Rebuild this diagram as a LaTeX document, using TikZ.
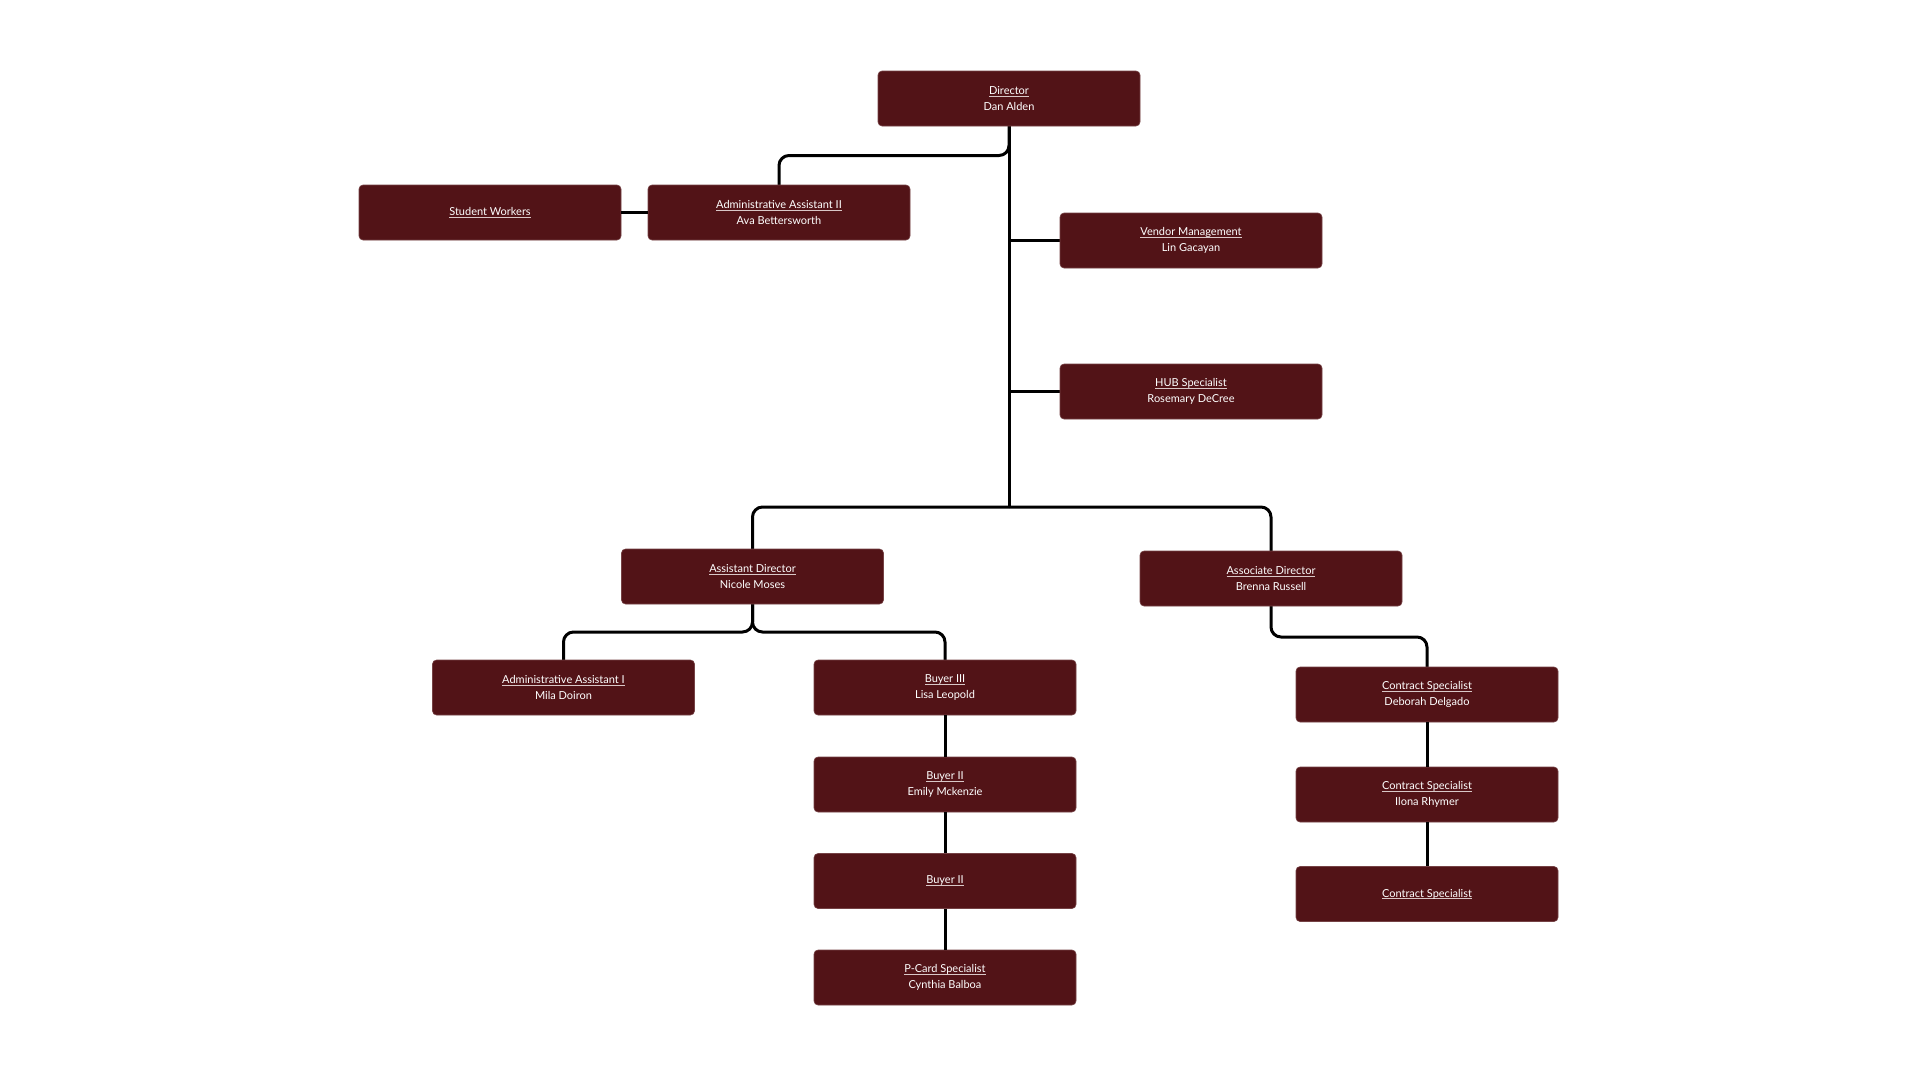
\documentclass[tikz,border=0pt]{standalone}
\usepackage{fontspec}
\setmainfont{Lato}
\definecolor{boxfill}{HTML}{521317}
\definecolor{ulc}{HTML}{D9C7C7}
\newcommand\ttl[1]{\setbox0\hbox{#1}\rlap{\color{ulc}\rule[-2pt]{\wd0}{0.7pt}}\box0}
\tikzset{
  orgbox/.style={draw=boxfill!80!white, line width=0.6pt, fill=boxfill, rounded corners=4pt,
    minimum width=262pt, minimum height=55pt, inner sep=0pt, text=white, align=center,
    font=\fontsize{11}{16}\selectfont},
  conn/.style={draw=black, line width=3pt, rounded corners=10pt}
}
\begin{document}
\begin{tikzpicture}[x=1pt,y=-1pt]
\useasboundingbox (0,0) rectangle (1920,1080);
% junctions
\coordinate (jA) at (1009,155.5);
\coordinate (jV) at (1009,240.5);
\coordinate (jH) at (1009,391.5);
\coordinate (jT) at (1009,507);
\coordinate (jB) at (752.5,632);
\coordinate (jC) at (1271,637);
% connectors (drawn first, under boxes)
\draw[conn] (1009,126) -- (jT);
\draw[conn] (1009,126) -- (jA) -| (779,185);
\draw[conn] (jV) -- (1060,240.5);
\draw[conn] (jH) -- (1060,391.5);
\draw[conn] (jT) -| (752.5,549);
\draw[conn] (jT) -| (1271,551);
\draw[conn] (752.5,604) -- (jB) -| (563.5,660);
\draw[conn] (752.5,604) -- (jB) -| (945,660);
\draw[conn] (1271,606) -- (jC) -| (1427,667);
% boxes
\node[orgbox] (dir) at (1009,98.5) {\ttl{Director}\\Dan Alden};
\node[orgbox] (sw) at (490,212.5) {\ttl{Student Workers}};
\node[orgbox] (aa2) at (779,212.5) {\ttl{Administrative Assistant II}\\Ava Bettersworth};
\node[orgbox] (vm) at (1191,240.5) {\ttl{Vendor Management}\\Lin Gacayan};
\node[orgbox] (hub) at (1191,391.5) {\ttl{HUB Specialist}\\Rosemary DeCree};
\node[orgbox] (asd) at (752.5,576.5) {\ttl{Assistant Director}\\Nicole Moses};
\node[orgbox] (aod) at (1271,578.5) {\ttl{Associate Director}\\Brenna Russell};
\node[orgbox] (aa1) at (563.5,687.5) {\ttl{Administrative Assistant I}\\Mila Doiron};
\node[orgbox] (b3) at (945,687.5) {\ttl{Buyer III}\\Lisa Leopold};
\node[orgbox] (b2a) at (945,784.5) {\ttl{Buyer II}\\Emily Mckenzie};
\node[orgbox] (b2b) at (945,881) {\ttl{Buyer II}};
\node[orgbox] (pc) at (945,977.5) {\ttl{P-Card Specialist}\\Cynthia Balboa};
\node[orgbox] (cs1) at (1427,694.5) {\ttl{Contract Specialist}\\Deborah Delgado};
\node[orgbox] (cs2) at (1427,794.5) {\ttl{Contract Specialist}\\Ilona Rhymer};
\node[orgbox] (cs3) at (1427,894) {\ttl{Contract Specialist}};
% straight connectors between boxes
\draw[conn] (sw.east) -- (aa2.west);
\draw[conn] (b3.south) -- (b2a.north);
\draw[conn] (b2a.south) -- (b2b.north);
\draw[conn] (b2b.south) -- (pc.north);
\draw[conn] (cs1.south) -- (cs2.north);
\draw[conn] (cs2.south) -- (cs3.north);
\end{tikzpicture}
\end{document}
